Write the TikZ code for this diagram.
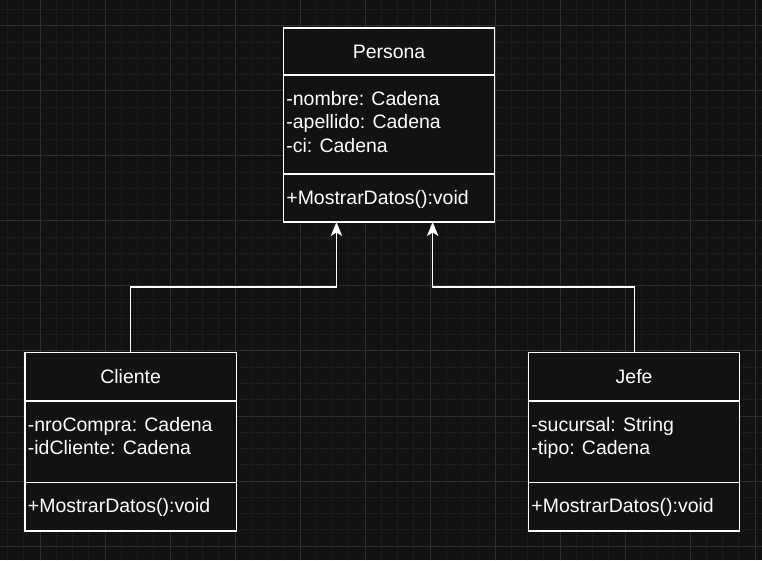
\documentclass[tikz,border=0pt]{standalone}
\usepackage{fontspec}
\setmainfont{Liberation Sans}
\usetikzlibrary{arrows.meta, positioning}
\definecolor{canvasBg}{HTML}{121212}
\definecolor{gridMinor}{HTML}{1C1C1C}
\definecolor{gridMajor}{HTML}{2E2E2E}
\tikzset{%
  >={Stealth[length=10.5pt,width=8.5pt,inset=2.6pt]},
  % Specifications for style of nodes:
    base/.style = {rectangle, draw=white, line width=0.9pt, fill=canvasBg, minimum width=158.4pt,
                   inner sep=0pt, outer sep=0pt, text=white},
    classHead/.style = {base, minimum height=36.5pt, text depth=0pt},
    classAttr/.style = {base, minimum height=61.25pt},
    classMethod/.style = {base, minimum height=36.25pt},
    memberText/.style = {inner sep=0pt, align=left, text=white},
    link/.style = {draw=white, line width=0.9pt},
    minorGrid/.style = {draw=gridMinor, line width=0.75pt},
    majorGrid/.style = {draw=gridMajor, line width=0.75pt},
}
\begin{document}
\begin{tikzpicture}[every node/.style={font=\fontsize{14.6}{17.5}\selectfont}]
  \useasboundingbox (0,0) rectangle (571.5pt,420pt);
  \fill[canvasBg] (0,0) rectangle (571.5pt,420pt);

  % Background grid
  \foreach \k in {0,...,46}
    \draw[minorGrid] ({5.625pt+\k*12.1875pt},0) -- ++(0,420pt);
  \foreach \k in {0,...,33}
    \draw[minorGrid] (0,{412.6875pt-\k*12.1875pt}) -- ++(571.5pt,0);
  \foreach \k in {0,...,11}
    \draw[majorGrid] ({30pt+\k*48.75pt},0) -- ++(0,420pt);
  \foreach \k in {0,...,8}
    \draw[majorGrid] (0,{400.5pt-\k*48.75pt}) -- ++(571.5pt,0);

  % Classes
  \node (personaHead)   [classHead, anchor=north west, minimum height=35.25pt] at (212.6pt,399pt) {Persona};
  \node (personaAttr)   [classAttr, below=0pt of personaHead, minimum height=74.25pt] {};
  \node (personaMethod) [classMethod, below=0pt of personaAttr, minimum height=36pt] {};

  \node (clienteHead)   [classHead, anchor=north west] at (18.75pt,155.8pt) {Cliente};
  \node (clienteAttr)   [classAttr, below=0pt of clienteHead] {};
  \node (clienteMethod) [classMethod, below=0pt of clienteAttr] {};

  \node (jefeHead)      [classHead, anchor=north west] at (396.4pt,155.8pt) {Jefe};
  \node (jefeAttr)      [classAttr, below=0pt of jefeHead] {};
  \node (jefeMethod)    [classMethod, below=0pt of jefeAttr] {};

  % Members
  \node (personaAttrText)   [memberText, below right=12pt and 2pt of personaAttr.north west]
                            {-nombre: Cadena\\-apellido: Cadena\\-ci: Cadena};
  \node (personaMethodText) [memberText, below right=12pt and 2pt of personaMethod.north west]
                            {+MostrarDatos():void};
  \node (clienteAttrText)   [memberText, below right=12pt and 2pt of clienteAttr.north west]
                            {-nroCompra: Cadena\\-idCliente: Cadena};
  \node (clienteMethodText) [memberText, below right=12pt and 2pt of clienteMethod.north west]
                            {+MostrarDatos():void};
  \node (jefeAttrText)      [memberText, below right=12pt and 2pt of jefeAttr.north west]
                            {-sucursal: String\\-tipo: Cadena};
  \node (jefeMethodText)    [memberText, below right=12pt and 2pt of jefeMethod.north west]
                            {+MostrarDatos():void};

  \coordinate[right=39.75pt of personaMethod.south west] (auxNode1);
  \coordinate[below=48.75pt of auxNode1] (auxNode2);
  \coordinate[right=111.9pt of personaMethod.south west] (auxNode3);
  \coordinate[below=48.75pt of auxNode3] (auxNode4);

  % Specification of lines between nodes
  \draw[link, ->]   (clienteHead.north) |- (auxNode2) -- (auxNode1);
  \draw[link, ->]   (jefeHead.north) |- (auxNode4) -- (auxNode3);
\end{tikzpicture}
\end{document}
